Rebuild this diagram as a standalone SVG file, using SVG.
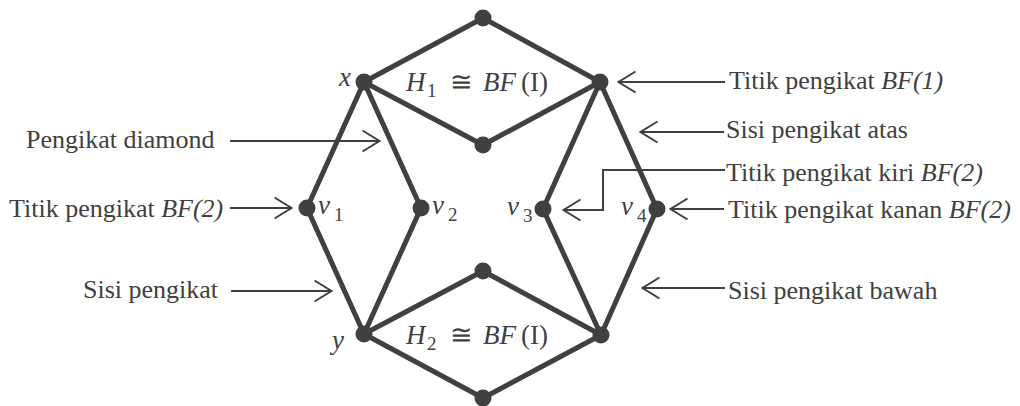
<svg xmlns="http://www.w3.org/2000/svg" width="1020" height="406" viewBox="0 0 1020 406">
<defs>
<style>
.e{stroke:#404040;stroke-width:5;stroke-linecap:round;fill:none}
.n{fill:#404040}
.a{stroke:#404040;stroke-width:2;fill:none;marker-end:url(#ah)}
.t{font-family:"Liberation Serif","Times New Roman",serif;font-size:26px;fill:#404040}
.m{font-family:"Liberation Serif","Times New Roman",serif;font-size:27px;fill:#404040}
.i{font-style:italic}
.s{font-size:19px}
</style>
<marker id="ah" markerUnits="userSpaceOnUse" viewBox="0 0 20 24" markerWidth="20" markerHeight="24" refX="18.5" refY="12" orient="auto">
<path d="M1,1.5 L18,12 L1,22.5" fill="none" stroke="#404040" stroke-width="2"/>
</marker>
</defs>
<rect width="1020" height="406" fill="#ffffff"/>
<g id="connectors">
<line class="e" x1="364" y1="82" x2="483" y2="18"/>
<line class="e" x1="483" y1="18" x2="600" y2="82"/>
<line class="e" x1="364" y1="82" x2="483" y2="145"/>
<line class="e" x1="483" y1="145" x2="600" y2="82"/>
<line class="e" x1="364" y1="82" x2="307" y2="208"/>
<line class="e" x1="364" y1="82" x2="421" y2="208"/>
<line class="e" x1="307" y1="208" x2="364" y2="334"/>
<line class="e" x1="421" y1="208" x2="364" y2="334"/>
<line class="e" x1="600" y1="82" x2="543" y2="209"/>
<line class="e" x1="600" y1="82" x2="657" y2="209"/>
<line class="e" x1="543" y1="209" x2="601" y2="335"/>
<line class="e" x1="657" y1="209" x2="601" y2="335"/>
<line class="e" x1="364" y1="334" x2="483" y2="271"/>
<line class="e" x1="483" y1="271" x2="601" y2="335"/>
<line class="e" x1="364" y1="334" x2="483" y2="398"/>
<line class="e" x1="483" y1="398" x2="601" y2="335"/>
</g>
<g id="node-top"><circle class="n" cx="483" cy="18" r="8.5"/></g>
<g id="node-x"><circle class="n" cx="364" cy="82" r="8.5"/><text class="m i" x="339" y="86">x</text></g>
<g id="node-r"><circle class="n" cx="600" cy="82" r="8.5"/></g>
<g id="node-innertop"><circle class="n" cx="483" cy="145" r="8.5"/></g>
<g id="node-v1"><circle class="n" cx="307" cy="208" r="8.5"/><text class="m" x="318" y="214"><tspan class="i">v</tspan><tspan class="s" x="334" y="221">1</tspan></text></g>
<g id="node-v2"><circle class="n" cx="421" cy="208" r="8.5"/><text class="m" x="432" y="214"><tspan class="i">v</tspan><tspan class="s" x="448" y="221">2</tspan></text></g>
<g id="node-v3"><circle class="n" cx="543" cy="209" r="8.5"/><text class="m" x="507" y="215"><tspan class="i">v</tspan><tspan class="s" x="523" y="222">3</tspan></text></g>
<g id="node-v4"><circle class="n" cx="657" cy="209" r="8.5"/><text class="m" x="621" y="215"><tspan class="i">v</tspan><tspan class="s" x="637" y="222">4</tspan></text></g>
<g id="node-y"><circle class="n" cx="364" cy="334" r="8.5"/><text class="m i" x="332" y="349">y</text></g>
<g id="node-br"><circle class="n" cx="601" cy="335" r="8.5"/></g>
<g id="node-innerbottom"><circle class="n" cx="483" cy="271" r="8.5"/></g>
<g id="node-bottom"><circle class="n" cx="483" cy="398" r="8.5"/></g>
<g id="label-h1"><text class="m" x="406" y="91"><tspan class="i">H</tspan><tspan class="s" x="427" y="97">1</tspan><tspan x="450" y="91">≅</tspan><tspan class="i" x="483">BF</tspan><tspan x="521">(I)</tspan></text></g>
<g id="label-h2"><text class="m" x="406" y="344"><tspan class="i">H</tspan><tspan class="s" x="427" y="350">2</tspan><tspan x="450" y="344">≅</tspan><tspan class="i" x="483">BF</tspan><tspan x="521">(I)</tspan></text></g>
<g id="annotations">
<line class="a" x1="230" y1="141" x2="380" y2="141"/>
<line class="a" x1="230" y1="208" x2="292" y2="208"/>
<line class="a" x1="231" y1="291" x2="332" y2="291"/>
<line class="a" x1="725" y1="82" x2="618" y2="82"/>
<line class="a" x1="724" y1="132" x2="640" y2="132"/>
<polyline class="a" points="725,170 603,170 603,210 563,210"/>
<line class="a" x1="724" y1="209" x2="670" y2="209"/>
<line class="a" x1="725" y1="288" x2="642" y2="288"/>
<text class="t" x="26" y="148">Pengikat diamond</text>
<text class="t" x="9" y="217">Titik pengikat <tspan class="i">BF(2)</tspan></text>
<text class="t" x="83" y="298">Sisi pengikat</text>
<text class="t" x="729" y="89">Titik pengikat <tspan class="i">BF(1)</tspan></text>
<text class="t" x="726" y="138">Sisi pengikat atas</text>
<text class="t" x="726" y="181">Titik pengikat kiri <tspan class="i">BF(2)</tspan></text>
<text class="t" x="728" y="218">Titik pengikat kanan <tspan class="i">BF(2)</tspan></text>
<text class="t" x="728" y="299">Sisi pengikat bawah</text>
</g>
</svg>
